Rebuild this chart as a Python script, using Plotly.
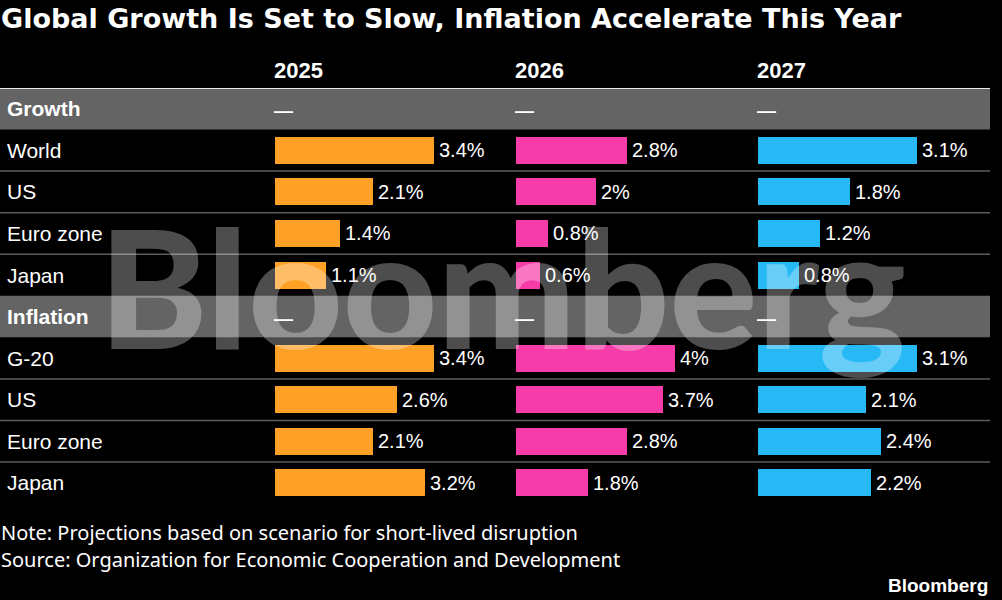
import plotly.graph_objects as go

W, H = 1002, 600

title = "Global Growth Is Set to Slow, Inflation Accelerate This Year"
years = ["2025", "2026", "2027"]
sections = ["Growth", "Inflation"]
growth_labels = ["World", "US", "Euro zone", "Japan"]
inflation_labels = ["G-20", "US", "Euro zone", "Japan"]

growth_2025 = [3.4, 2.1, 1.4, 1.1]
growth_2026 = [2.8, 2.0, 0.8, 0.6]
growth_2027 = [3.1, 1.8, 1.2, 0.8]
inflation_2025 = [3.4, 2.6, 2.1, 3.2]
inflation_2026 = [4.0, 3.7, 2.8, 1.8]
inflation_2027 = [3.1, 2.1, 2.4, 2.2]

colors = ["#FFA126", "#F53CA8", "#27B9F5"]
note = "Note: Projections based on scenario for short-lived disruption"
source = "Source: Organization for Economic Cooperation and Development"
brand = "Bloomberg"


def px(x):
    return x / W


def py(y):
    return 1 - y / H


growth_rows = [1, 2, 3, 4]
inflation_rows = [6, 7, 8, 9]
header_rows = [0, 5]
data_rows = growth_rows + inflation_rows

columns = [
    growth_2025 + inflation_2025,
    growth_2026 + inflation_2026,
    growth_2027 + inflation_2027,
]
col_left = [275, 516, 758]
col_width = 159

fig = go.Figure()
xrefs = ["x", "x2", "x3"]
for j, vals in enumerate(columns):
    fig.add_trace(go.Bar(
        x=vals, y=data_rows, orientation="h",
        marker=dict(color=colors[j], line=dict(width=0)),
        width=0.65, xaxis=xrefs[j], yaxis="y",
        hoverinfo="skip", showlegend=False,
    ))

shapes = []
right_edge = px(990)
for r in header_rows:
    shapes.append(dict(type="rect", xref="paper", yref="y", x0=0, x1=right_edge,
                       y0=r - 0.5, y1=r + 0.5, fillcolor="#646464",
                       line=dict(width=0), layer="below"))
for r in [1.5, 2.5, 3.5, 6.5, 7.5, 8.5]:
    shapes.append(dict(type="line", xref="paper", yref="y", x0=0, x1=right_edge,
                       y0=r, y1=r, line=dict(color="#5c5c5c", width=1.5),
                       layer="below"))
shapes.append(dict(type="line", xref="paper", yref="y", x0=0, x1=right_edge,
                   y0=-0.5, y1=-0.5, line=dict(color="#e8e8e8", width=2)))

ann = []
ann.append(dict(text="<b>" + title + "</b>", x=0, y=py(18), xref="paper", yref="paper",
                xanchor="left", yanchor="middle", showarrow=False, xshift=-1,
                font=dict(family="DejaVu Sans", size=27, color="white")))
for j, yr in enumerate(years):
    ann.append(dict(text="<b>" + yr + "</b>", x=0, y=py(70), xref=xrefs[j], yref="paper",
                    xanchor="left", yanchor="middle", showarrow=False, xshift=-3,
                    font=dict(family="Liberation Sans", size=22, color="white")))
    for r in header_rows:
        ann.append(dict(text="<b>—</b>", x=0, y=r, xref=xrefs[j], yref="y",
                        xanchor="left", yanchor="middle", showarrow=False, xshift=-3,
                        yshift=-2,
                        font=dict(family="Liberation Sans", size=19, color="white")))
    for v, r in zip(columns[j], data_rows):
        ann.append(dict(text=f"{v:g}%", x=v, y=r, xref=xrefs[j], yref="y",
                        xanchor="left", yanchor="middle", showarrow=False, xshift=3,
                        font=dict(family="Liberation Sans", size=20, color="white")))

for name, r in zip(sections, header_rows):
    ann.append(dict(text="<b>" + name + "</b>", x=px(5), y=r, xref="paper", yref="y",
                    xanchor="left", yanchor="middle", showarrow=False,
                    font=dict(family="Liberation Sans", size=21, color="white")))
for name, r in zip(growth_labels + inflation_labels, data_rows):
    ann.append(dict(text=name, x=px(5), y=r, xref="paper", yref="y",
                    xanchor="left", yanchor="middle", showarrow=False,
                    font=dict(family="Liberation Sans", size=21, color="white")))

ann.append(dict(text=note, x=0, y=py(532), xref="paper", yref="paper",
                xanchor="left", yanchor="middle", showarrow=False, xshift=-1,
                font=dict(family="Noto Sans", size=20, color="white")))
ann.append(dict(text=source, x=0, y=py(559), xref="paper", yref="paper",
                xanchor="left", yanchor="middle", showarrow=False, xshift=-1,
                font=dict(family="Noto Sans", size=20, color="white")))
ann.append(dict(text="<b>" + brand + "</b>", x=px(990), y=py(585), xref="paper", yref="paper",
                xanchor="right", yanchor="middle", showarrow=False,
                font=dict(family="Liberation Sans", size=19, color="white")))
# watermark overlay
ann.append(dict(text=brand, x=px(502), y=py(285), xref="paper", yref="paper",
                xanchor="center", yanchor="middle", showarrow=False,
                font=dict(family="Lato", size=164, weight=900,
                          color="rgba(255,255,255,0.3)")))

layout = dict(
    width=W, height=H,
    margin=dict(l=0, r=0, t=0, b=0),
    paper_bgcolor="black", plot_bgcolor="rgba(0,0,0,0)",
    showlegend=False, bargap=0,
    shapes=shapes, annotations=ann,
    yaxis=dict(domain=[py(503.6), py(88)], range=[9.5, -0.5], visible=False,
               showgrid=False, zeroline=False, fixedrange=True),
)
for j, key in enumerate(["xaxis", "xaxis2", "xaxis3"]):
    layout[key] = dict(domain=[px(col_left[j]), px(col_left[j] + col_width)],
                       range=[0, max(columns[j])], visible=False, showgrid=False,
                       zeroline=False, fixedrange=True, anchor="y")
fig.update_layout(**layout)

fig.write_html("out.html")
